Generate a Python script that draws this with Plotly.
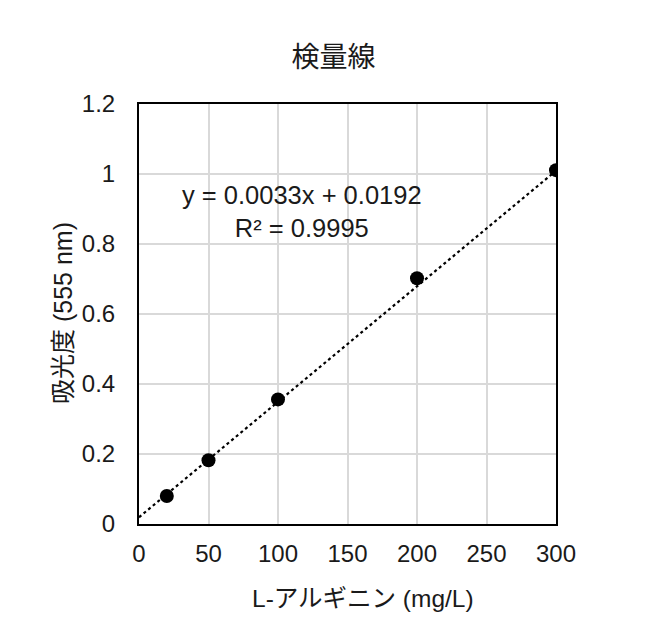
import plotly.graph_objects as go

# calibration data
conc = [20, 50, 100, 200, 300]          # L-アルギニン (mg/L)
absorb = [0.08, 0.182, 0.356, 0.702, 1.011]  # 吸光度 (555 nm)

slope = 0.0033
intercept = 0.0192
r2 = 0.9995
fit_x = [0, 300]
fit_y = [intercept + slope * x for x in fit_x]

FONT = "Liberation Sans, Arial, Noto Sans CJK JP, sans-serif"

fig = go.Figure()

fig.add_trace(go.Scatter(
    x=fit_x, y=fit_y, mode="lines",
    line=dict(color="black", width=2.2, dash="dot"),
    hoverinfo="skip", showlegend=False,
))

fig.add_trace(go.Scatter(
    x=conc, y=absorb, mode="markers",
    marker=dict(color="black", size=14),
    showlegend=False,
))

fig.add_annotation(
    text=f"y = {slope}x + {intercept}<br>R² = {r2}",
    xref="x", yref="y", x=117, y=0.893,
    showarrow=False, align="center",
    font=dict(size=25.5, color="#1a1a1a", family=FONT),
)

# axis titles placed as annotations
fig.add_annotation(
    text="L-アルギニン (mg/L)",
    xref="paper", yref="paper", x=0.5, y=0, xshift=15, yshift=-74,
    xanchor="center", yanchor="middle",
    showarrow=False, font=dict(size=24.5, color="#1a1a1a", family=FONT),
)
fig.add_annotation(
    text="吸光度 (555 nm)",
    xref="paper", yref="paper", x=0, y=0.5, xshift=-76, yshift=1,
    xanchor="center", yanchor="middle",
    textangle=-90, showarrow=False,
    font=dict(size=25, color="#1a1a1a", family=FONT),
)

fig.update_xaxes(
    range=[0, 300], tickvals=[0, 50, 100, 150, 200, 250, 300],
    showgrid=True, gridcolor="#d9d9d9", gridwidth=2,
    showline=True, linecolor="black", linewidth=2, mirror=True,
    zeroline=False, ticks="", ticklabelstandoff=7,
    tickfont=dict(size=24, color="#1a1a1a", family=FONT),
)
fig.update_yaxes(
    range=[0, 1.2], tickvals=[0, 0.2, 0.4, 0.6, 0.8, 1, 1.2],
    ticktext=["0", "0.2", "0.4", "0.6", "0.8", "1", "1.2"],
    showgrid=True, gridcolor="#d9d9d9", gridwidth=2,
    showline=True, linecolor="black", linewidth=2, mirror=True,
    zeroline=False, ticks="", ticklabelstandoff=17,
    tickfont=dict(size=24, color="#1a1a1a", family=FONT),
)

fig.update_layout(
    title=dict(text="検量線", x=0.5, xanchor="center", y=0.923, yanchor="middle",
               font=dict(size=28, color="#1a1a1a", family=FONT)),
    width=651, height=638,
    margin=dict(l=131, r=103, t=96, b=122),
    paper_bgcolor="white", plot_bgcolor="white",
)

fig.write_html("out.html")
